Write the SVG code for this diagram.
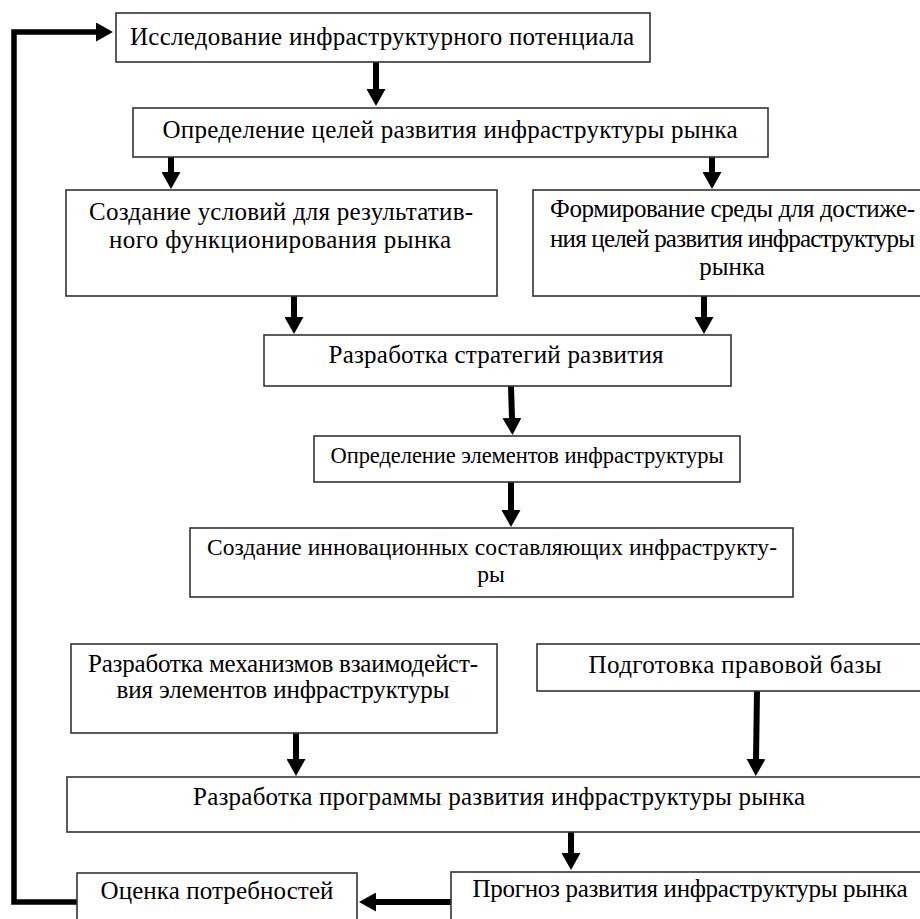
<svg xmlns="http://www.w3.org/2000/svg" width="920" height="919" viewBox="0 0 920 919">
<style>
.box{fill:#fff;stroke:#333;stroke-width:1.6}
.t{font-family:'Liberation Serif','Times New Roman',serif;font-size:25px;fill:#000}
.s{font-size:22.5px}
.m{font-size:23.5px}
.c{text-anchor:middle}
.ar{fill:none;stroke:#000;stroke-width:6}
.loop{fill:none;stroke:#000;stroke-width:5.5}
</style>
<defs>
<marker id="ah" viewBox="0 0 17 19" refX="1" refY="9.5" markerWidth="17" markerHeight="19" markerUnits="userSpaceOnUse" orient="auto">
<path d="M0,0 L17,9.5 L0,19 z" fill="#000"/>
</marker>
</defs>
<rect width="920" height="919" fill="#fff"/>
<g id="connectors">
<path class="loop" d="M78,902 H14 V32 H97" marker-end="url(#ah)"/>
<line class="ar" x1="376" y1="62" x2="376" y2="90" marker-end="url(#ah)"/>
<line class="ar" x1="171" y1="157" x2="171" y2="173" marker-end="url(#ah)"/>
<line class="ar" x1="712" y1="157" x2="712" y2="173" marker-end="url(#ah)"/>
<line class="ar" x1="294" y1="296" x2="294" y2="318" marker-end="url(#ah)"/>
<line class="ar" x1="704" y1="296" x2="704" y2="318" marker-end="url(#ah)"/>
<line class="ar" x1="511" y1="386" x2="512" y2="419" marker-end="url(#ah)"/>
<line class="ar" x1="511" y1="482" x2="511" y2="511" marker-end="url(#ah)"/>
<line class="ar" x1="296" y1="733" x2="296" y2="760" marker-end="url(#ah)"/>
<line class="ar" x1="757" y1="691" x2="756" y2="760" marker-end="url(#ah)"/>
<line class="ar" x1="571" y1="832" x2="571" y2="854" marker-end="url(#ah)"/>
<line class="ar" x1="457" y1="902" x2="375" y2="902" marker-end="url(#ah)"/>
</g>
<g id="n1"><rect class="box" x="116" y="13" width="534" height="49"/>
<text class="t c" x="382" y="45" textLength="504">Исследование инфраструктурного потенциала</text></g>
<g id="n2"><rect class="box" x="133" y="108" width="635" height="49"/>
<text class="t c" x="450" y="138" textLength="575">Определение целей развития инфраструктуры рынка</text></g>
<g id="n3"><rect class="box" x="66" y="190" width="431" height="106"/>
<text class="t" x="89" y="220" textLength="384">Создание условий для результатив-</text>
<text class="t c" x="280" y="248" textLength="342">ного функционирования рынка</text></g>
<g id="n4"><rect class="box" x="533" y="190" width="400" height="106"/>
<text class="t" x="550" y="217" textLength="365">Формирование среды для достиже-</text>
<text class="t" x="550" y="247" textLength="365">ния целей развития инфраструктуры</text>
<text class="t c" x="732" y="275">рынка</text></g>
<g id="n5"><rect class="box" x="264" y="335" width="467" height="51"/>
<text class="t c" x="496" y="363" textLength="335">Разработка стратегий развития</text></g>
<g id="n6"><rect class="box" x="314" y="436" width="426" height="46"/>
<text class="t s c" x="527" y="463" textLength="393">Определение элементов инфраструктуры</text></g>
<g id="n7"><rect class="box" x="190" y="528" width="603" height="69"/>
<text class="t m" x="207" y="555" textLength="570">Создание инновационных составляющих инфраструкту-</text>
<text class="t m c" x="491" y="582">ры</text></g>
<g id="n8"><rect class="box" x="71" y="644" width="426" height="89"/>
<text class="t" x="88" y="672" textLength="390">Разработка механизмов взаимодейст-</text>
<text class="t c" x="283" y="698" textLength="333">вия элементов инфраструктуры</text></g>
<g id="n9"><rect class="box" x="537" y="644" width="400" height="47"/>
<text class="t c" x="735" y="673" textLength="293">Подготовка правовой базы</text></g>
<g id="n10"><rect class="box" x="67" y="777" width="870" height="55"/>
<text class="t c" x="499" y="805" textLength="612">Разработка программы развития инфраструктуры рынка</text></g>
<g id="n11"><rect class="box" x="77" y="873" width="280" height="60"/>
<text class="t c" x="217" y="899" textLength="233">Оценка потребностей</text></g>
<g id="n12"><rect class="box" x="451" y="872" width="486" height="60"/>
<text class="t c" x="690" y="897" textLength="435">Прогноз развития инфраструктуры рынка</text></g>
</svg>
